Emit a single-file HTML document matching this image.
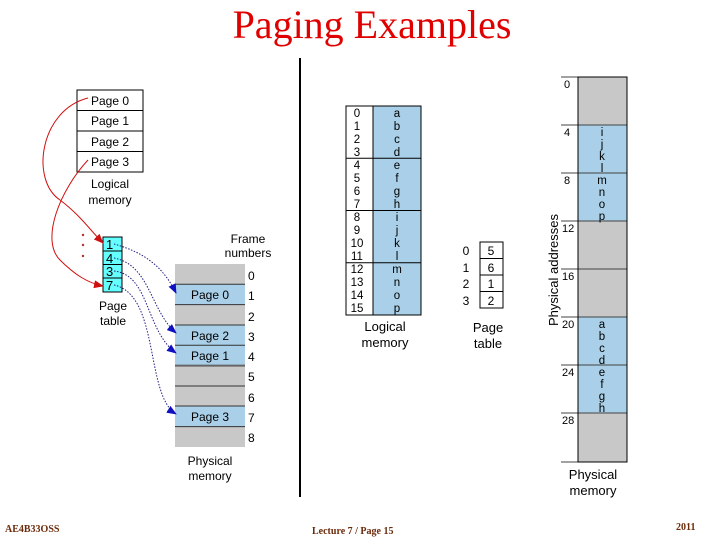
<!DOCTYPE html>
<html><head><meta charset="utf-8"><style>
html,body{margin:0;padding:0;background:#fff;}
svg{display:block;}
text{font-family:"Liberation Sans",sans-serif;}
text.serif{font-family:"Liberation Serif",serif;}
</style></head><body>
<svg width="720" height="540" viewBox="0 0 720 540" xmlns="http://www.w3.org/2000/svg">
<defs>
<marker id="ar" markerWidth="10" markerHeight="8" refX="9" refY="4" orient="auto" markerUnits="userSpaceOnUse"><path d="M0,0 L10,4 L0,8 z" fill="#d01010"/></marker>
<marker id="ab" markerWidth="10" markerHeight="8" refX="9" refY="4" orient="auto" markerUnits="userSpaceOnUse"><path d="M0,0 L10,4 L0,8 z" fill="#1010c0"/></marker>
</defs>
<text class="serif" x="372" y="38" text-anchor="middle" font-size="40" fill="#e00000">Paging Examples</text>
<line x1="300" y1="58" x2="300" y2="497" stroke="#000" stroke-width="2"/>

<g font-size="12" fill="#000">
<rect x="77" y="90" width="66" height="82" fill="#fff" stroke="#000"/>
<line x1="77" y1="110.5" x2="143" y2="110.5" stroke="#000"/>
<line x1="77" y1="131" x2="143" y2="131" stroke="#000"/>
<line x1="77" y1="151.5" x2="143" y2="151.5" stroke="#000"/>
<text x="91" y="105">Page 0</text>
<text x="91" y="125">Page 1</text>
<text x="91" y="146">Page 2</text>
<text x="91" y="166">Page 3</text>
<text x="110" y="188" text-anchor="middle">Logical</text>
<text x="110" y="204" text-anchor="middle">memory</text>
</g>
<g fill="#b03030"><circle cx="83" cy="235" r="1.2"/><circle cx="83" cy="245" r="1.2"/><circle cx="83" cy="256" r="1.2"/></g>
<g font-size="13">
<rect x="103" y="237" width="19" height="55" fill="#66ffff" stroke="#000"/>
<line x1="103" y1="251" x2="122" y2="251" stroke="#000"/>
<line x1="103" y1="264.5" x2="122" y2="264.5" stroke="#000"/>
<line x1="103" y1="278" x2="122" y2="278" stroke="#000"/>
<text x="106" y="249">1</text><text x="106" y="263">4</text><text x="106" y="276">3</text><text x="106" y="290">7</text>
<text x="113" y="310" font-size="12" text-anchor="middle">Page</text>
<text x="113" y="325" font-size="12" text-anchor="middle">table</text>
</g>
<path d="M88,98 C40,110 30,180 60,200 C80,215 90,230 103,243" fill="none" stroke="#d01010" stroke-width="1" marker-end="url(#ar)"/>
<path d="M88,160 C60,190 40,240 60,260 C75,275 88,283 103,286" fill="none" stroke="#d01010" stroke-width="1" marker-end="url(#ar)"/>
<rect x="175" y="264" width="70" height="183" fill="#c8c8c8"/>
<rect x="175" y="284.3" width="70" height="20.3" fill="#a9d0e8"/>
<rect x="175" y="325" width="70" height="40.6" fill="#a9d0e8"/>
<rect x="175" y="406" width="70" height="20.3" fill="#a9d0e8"/>
<g stroke="#333" stroke-width="1">
<line x1="175" y1="284.3" x2="245" y2="284.3"/><line x1="175" y1="304.6" x2="245" y2="304.6"/>
<line x1="175" y1="325" x2="245" y2="325"/><line x1="175" y1="345.3" x2="245" y2="345.3"/>
<line x1="175" y1="365.6" x2="245" y2="365.6" stroke="#666" stroke-width="2"/><line x1="175" y1="386" x2="245" y2="386"/>
<line x1="175" y1="406" x2="245" y2="406"/><line x1="175" y1="426.6" x2="245" y2="426.6"/>
</g>
<g font-size="12">
<text x="210" y="299" text-anchor="middle">Page 0</text>
<text x="210" y="340" text-anchor="middle">Page 2</text>
<text x="210" y="360" text-anchor="middle">Page 1</text>
<text x="210" y="421" text-anchor="middle">Page 3</text>
<text x="248" y="243" text-anchor="middle">Frame</text>
<text x="248" y="257" text-anchor="middle">numbers</text>
<text x="248" y="280">0</text><text x="248" y="300">1</text><text x="248" y="321">2</text><text x="248" y="341">3</text><text x="248" y="361">4</text><text x="248" y="381">5</text><text x="248" y="402">6</text><text x="248" y="422">7</text><text x="248" y="442">8</text>
<text x="210" y="465" text-anchor="middle">Physical</text>
<text x="210" y="480" text-anchor="middle">memory</text>
</g>
<g fill="none" stroke="#202080" stroke-width="1" stroke-dasharray="1.5,1.5">
<path d="M114,244 C135,250 160,260 176,293" marker-end="url(#ab)"/>
<path d="M114,258 C150,265 150,310 176,333" marker-end="url(#ab)"/>
<path d="M114,271 C150,275 145,330 176,353" marker-end="url(#ab)"/>
<path d="M114,285 C160,295 145,395 176,414" marker-end="url(#ab)"/>
</g>

<rect x="346" y="106" width="75" height="209" fill="#fff" stroke="#000"/>
<rect x="373" y="106" width="48" height="209" fill="#a9d0e8" stroke="#000"/>
<g stroke="#000"><line x1="346" y1="158.25" x2="421" y2="158.25"/><line x1="346" y1="210.5" x2="421" y2="210.5"/><line x1="346" y1="262.75" x2="421" y2="262.75"/></g>
<g font-size="11.5">
<text x="357" y="117" text-anchor="middle">0</text><text x="357" y="130" text-anchor="middle">1</text><text x="357" y="143" text-anchor="middle">2</text><text x="357" y="156" text-anchor="middle">3</text>
<text x="357" y="169" text-anchor="middle">4</text><text x="357" y="182" text-anchor="middle">5</text><text x="357" y="195" text-anchor="middle">6</text><text x="357" y="208" text-anchor="middle">7</text>
<text x="357" y="221" text-anchor="middle">8</text><text x="357" y="234" text-anchor="middle">9</text><text x="357" y="247" text-anchor="middle">10</text><text x="357" y="260" text-anchor="middle">11</text>
<text x="357" y="273" text-anchor="middle">12</text><text x="357" y="286" text-anchor="middle">13</text><text x="357" y="299" text-anchor="middle">14</text><text x="357" y="312" text-anchor="middle">15</text>
<text x="397" y="117" text-anchor="middle">a</text><text x="397" y="130" text-anchor="middle">b</text><text x="397" y="143" text-anchor="middle">c</text><text x="397" y="156" text-anchor="middle">d</text>
<text x="397" y="169" text-anchor="middle">e</text><text x="397" y="182" text-anchor="middle">f</text><text x="397" y="195" text-anchor="middle">g</text><text x="397" y="208" text-anchor="middle">h</text>
<text x="397" y="221" text-anchor="middle">i</text><text x="397" y="234" text-anchor="middle">j</text><text x="397" y="247" text-anchor="middle">k</text><text x="397" y="260" text-anchor="middle">l</text>
<text x="397" y="273" text-anchor="middle">m</text><text x="397" y="286" text-anchor="middle">n</text><text x="397" y="299" text-anchor="middle">o</text><text x="397" y="312" text-anchor="middle">p</text>
</g>
<g font-size="13">
<text x="385" y="331" text-anchor="middle">Logical</text>
<text x="385" y="347" text-anchor="middle">memory</text>
</g>
<rect x="480" y="242" width="23" height="66" fill="#fff" stroke="#000"/>
<g stroke="#000"><line x1="480" y1="258.5" x2="503" y2="258.5"/><line x1="480" y1="275" x2="503" y2="275"/><line x1="480" y1="291.5" x2="503" y2="291.5"/></g>
<g font-size="12">
<text x="466" y="255" text-anchor="middle">0</text><text x="466" y="272" text-anchor="middle">1</text><text x="466" y="288" text-anchor="middle">2</text><text x="466" y="305" text-anchor="middle">3</text>
<text x="491" y="255" text-anchor="middle">5</text><text x="491" y="272" text-anchor="middle">6</text><text x="491" y="288" text-anchor="middle">1</text><text x="491" y="305" text-anchor="middle">2</text>
<text x="488" y="332" font-size="13" text-anchor="middle">Page</text>
<text x="488" y="348" font-size="13" text-anchor="middle">table</text>
</g>
<rect x="578" y="77" width="49" height="385" fill="#c8c8c8" stroke="#000"/>
<rect x="578" y="125" width="49" height="96" fill="#a9d0e8"/>
<rect x="578" y="317" width="49" height="96" fill="#a9d0e8"/>
<g stroke="#444"><line x1="561" y1="77" x2="627" y2="77"/><line x1="561" y1="125" x2="627" y2="125"/><line x1="561" y1="173" x2="627" y2="173"/><line x1="561" y1="221" x2="627" y2="221"/><line x1="561" y1="269" x2="627" y2="269"/><line x1="561" y1="317" x2="627" y2="317"/><line x1="561" y1="365" x2="627" y2="365"/><line x1="561" y1="413" x2="627" y2="413"/><line x1="561" y1="462" x2="627" y2="462"/></g>
<rect x="578" y="77" width="49" height="385" fill="none" stroke="#000"/>
<g font-size="11">
<text x="564" y="88">0</text><text x="564" y="136">4</text><text x="564" y="184">8</text><text x="562" y="232">12</text><text x="562" y="280">16</text><text x="562" y="328">20</text><text x="562" y="376">24</text><text x="562" y="424">28</text>
</g>
<g font-size="11.5" text-anchor="middle">
<text x="602" y="136">i</text><text x="602" y="148">j</text><text x="602" y="160">k</text><text x="602" y="172">l</text>
<text x="602" y="184">m</text><text x="602" y="196">n</text><text x="602" y="208">o</text><text x="602" y="220">p</text>
<text x="602" y="328">a</text><text x="602" y="340">b</text><text x="602" y="352">c</text><text x="602" y="364">d</text>
<text x="602" y="376">e</text><text x="602" y="388">f</text><text x="602" y="400">g</text><text x="602" y="412">h</text>
</g>
<text transform="translate(558,270) rotate(-90)" font-size="13" text-anchor="middle">Physical addresses</text>
<text x="593" y="479" font-size="13" text-anchor="middle">Physical</text>
<text x="593" y="495" font-size="13" text-anchor="middle">memory</text>

<g font-size="10" font-weight="bold" fill="#6b2a0a">
<text class="serif" x="5" y="532">AE4B33OSS</text>
<text class="serif" x="312" y="534">Lecture 7 / Page 15</text>
<text class="serif" x="676" y="530">2011</text>
</g>
</svg>
</body></html>
